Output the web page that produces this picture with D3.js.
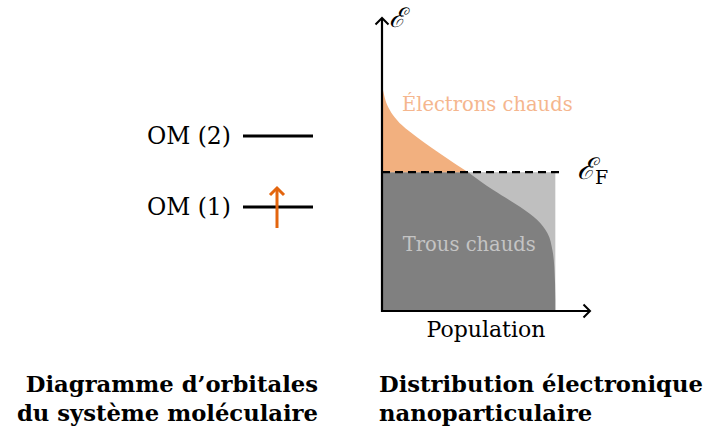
<html>
<head>
    <script src="https://d3js.org/d3.v7.min.js"></script>
    <style>
        body { margin: 0; background: #fff; }
        text { font-family: "DejaVu Serif", serif; }
    </style>
</head>
<body>
    <svg id="chart"></svg>
    <script>
        var Width = 705, Height = 431;

        // energy (E - EF, arbitrary units) and population
        var energy     = [2.86, 2.5, 2.18, 1.85, 1.52, 1.11, 0.56, 0, -0.58, -1.13, -1.55, -1.97, -2.52, -3.07, -4.14, -4.5];
        var population = [0, 0.012, 0.03, 0.064, 0.116, 0.208, 0.347, 0.497, 0.642, 0.798, 0.896, 0.954, 0.983, 0.994, 1.0, 1.0];

        // molecular orbitals
        var omLabels = ["OM (2)", "OM (1)"];
        var omLevels = [2, 1];
        var electrons = [1];   // one spin-up electron on OM (1)

        var captions = [
            ["Diagramme d\u2019orbitales", "du syst\u00e8me mol\u00e9culaire"],
            ["Distribution \u00e9lectronique", "nanoparticulaire"]
        ];

        var X = d3.scaleLinear().domain([0, 1.2]).range([382, 590]);
        var Y = d3.scaleLinear().domain([-4.5, 5]).range([311, 18]);
        var OM = d3.scaleLinear().domain([1, 2]).range([207, 136]);

        var svg = d3.select("#chart")
            .attr("width", Width)
            .attr("height", Height);

        var pts = energy.map(function(e, i){ return {e: e, p: population[i]}; });

        var area = d3.area()
            .curve(d3.curveMonotoneY)
            .y(function(d){ return Y(d.e); })
            .x0(X(0))
            .x1(function(d){ return X(d.p); });

        // T = 0 occupation (light grey)
        svg.append("rect")
            .attr("x", X(0)).attr("y", Y(0))
            .attr("width", X(1) - X(0)).attr("height", Y(-4.5) - Y(0))
            .attr("fill", "#bfbfbf");

        // hot distribution below EF
        svg.append("path")
            .attr("d", area(pts.filter(function(d){ return d.e <= 0; })))
            .attr("fill", "#808080");

        // hot electrons above EF
        svg.append("path")
            .attr("d", area(pts.filter(function(d){ return d.e >= 0; })))
            .attr("fill", "#f2b07f");

        svg.append("text")
            .attr("x", X(0.115)).attr("y", Y(2.0))
            .attr("font-size", 19.5)
            .attr("fill", "#f5b68e")
            .text("\u00c9lectrons chauds");

        svg.append("text")
            .attr("x", X(0.12)).attr("y", Y(-2.55))
            .attr("font-size", 19.5)
            .attr("fill", "#c4c4c4")
            .text("Trous chauds");

        // Fermi level
        svg.append("line")
            .attr("x1", X(0)).attr("x2", X(1.045))
            .attr("y1", Y(0)).attr("y2", Y(0))
            .attr("stroke", "#000").attr("stroke-width", 2.2)
            .attr("stroke-dasharray", "8,5");

        var ef = svg.append("text")
            .attr("x", X(1.125)).attr("y", Y(0) + 7)
            .attr("font-size", 30)
            .attr("font-style", "italic");
        ef.append("tspan").text("\u2130");
        ef.append("tspan").attr("font-size", 19).attr("font-style", "normal").attr("dy", 5).text("F");

        // axes
        function arrowHead(g, x, y, dir)
        {
            var s = 6.5;
            var d = dir == "up"
                ? "M" + (x - s) + "," + (y + s) + "L" + x + "," + y + "L" + (x + s) + "," + (y + s)
                : "M" + (x - s) + "," + (y - s) + "L" + x + "," + y + "L" + (x - s) + "," + (y + s);
            g.append("path").attr("d", d)
                .attr("fill", "none").attr("stroke", "#000").attr("stroke-width", 2);
        }

        svg.append("line")
            .attr("x1", X(0)).attr("x2", X(0))
            .attr("y1", Y(-4.5) + 1).attr("y2", Y(5) + 1)
            .attr("stroke", "#000").attr("stroke-width", 2.2);
        arrowHead(svg, X(0), Y(5), "up");

        svg.append("line")
            .attr("x1", X(0) - 1).attr("x2", X(1.2) - 1)
            .attr("y1", Y(-4.5)).attr("y2", Y(-4.5))
            .attr("stroke", "#000").attr("stroke-width", 2.2);
        arrowHead(svg, X(1.2), Y(-4.5), "right");

        svg.append("text")
            .attr("x", X(0) + 7).attr("y", 27)
            .attr("font-size", 27)
            .attr("font-style", "italic")
            .text("\u2130");

        svg.append("text")
            .attr("x", 486).attr("y", 337)
            .attr("text-anchor", "middle")
            .attr("font-size", 22)
            .text("Population");

        // molecular orbital diagram
        var om = svg.selectAll("g.om")
            .data(omLevels)
            .enter().append("g").attr("class", "om");

        om.append("line")
            .attr("x1", 243).attr("x2", 313)
            .attr("y1", function(d){ return OM(d); })
            .attr("y2", function(d){ return OM(d); })
            .attr("stroke", "#000").attr("stroke-width", 3);

        om.append("text")
            .attr("x", 231)
            .attr("y", function(d){ return OM(d) + 8; })
            .attr("text-anchor", "end")
            .attr("font-size", 23.5)
            .text(function(d, i){ return omLabels[i]; });

        electrons.forEach(function(lv)
        {
            var cx = 277, y0 = OM(lv) + 21, y1 = OM(lv) - 19;
            svg.append("line")
                .attr("x1", cx).attr("x2", cx).attr("y1", y0).attr("y2", y1 + 1)
                .attr("stroke", "#e3650e").attr("stroke-width", 3);
            svg.append("path")
                .attr("d", "M" + (cx - 7) + "," + (y1 + 7) + "L" + cx + "," + y1 + "L" + (cx + 7) + "," + (y1 + 7))
                .attr("fill", "none").attr("stroke", "#e3650e").attr("stroke-width", 3);
        });

        // captions
        var capX = [318, 379], capAnchor = ["end", "start"];
        captions.forEach(function(lines, k)
        {
            lines.forEach(function(t, j)
            {
                svg.append("text")
                    .attr("x", capX[k]).attr("y", 392 + j * 29)
                    .attr("text-anchor", capAnchor[k])
                    .attr("font-size", 22.7)
                    .attr("font-weight", "bold")
                    .text(t);
            });
        });
    </script>
</body>
</html>
